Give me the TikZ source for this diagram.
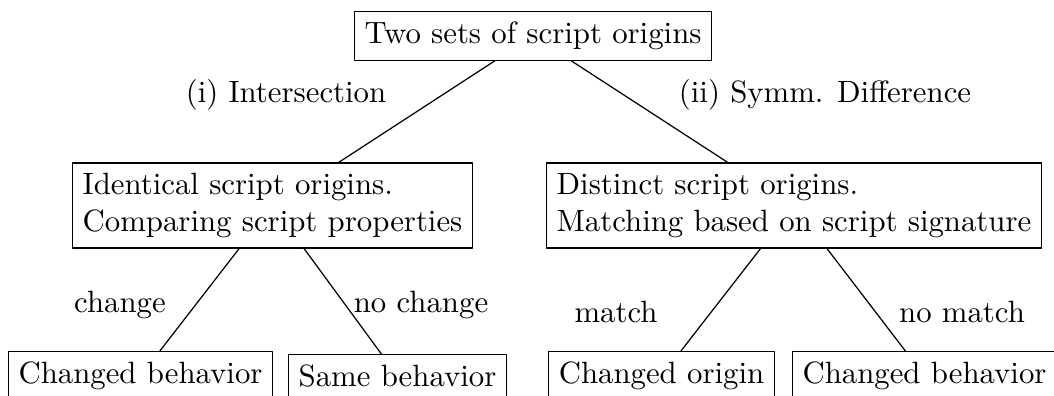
\documentclass[tikz,border=0pt]{standalone}
\begin{document}
\begin{tikzpicture}[x=0.3247pt, y=-0.3247pt, line join=round, line cap=round,
		box/.style={draw, align=left}]
			\useasboundingbox (0,0) rectangle (1054,396);
			\clip (0,0) rectangle (1054,396);
			% boxes
			\node[box] (root) at (533,36) {Two sets of script origins};
			\node[box] (ident) at (272.5,205.5) {Identical script origins.\\Comparing script properties};
			\node[box] (distinct) at (794,205.5) {Distinct script origins.\\Matching based on script signature};
			\node[box] (chgbeh) at (140.5,376) {Changed behavior};
			\node[box] (samebeh) at (397.5,376) {Same behavior};
			\node[box] (chgorig) at (661.5,376) {Changed origin};
			\node[box] (chgbehb) at (924.5,376) {Changed behavior};
			% edges
			\draw (root) -- (ident);
			\draw (root) -- (distinct);
			\draw (ident) -- (chgbeh);
			\draw (ident) -- (samebeh);
			\draw (distinct) -- (chgorig);
			\draw (distinct) -- (chgbehb);
			% labels
			\node (lint) at (286,95) {(i) Intersection};
			\node (ldiff) at (825,95) {(ii) Symm. Difference};
			\node (lchg) at (120,305) {change};
			\node (lnochg) at (421,305) {no change};
			\node (lmatch) at (616,312) {match};
			\node (lnomatch) at (962,312) {no match};
		\end{tikzpicture}
\end{document}
